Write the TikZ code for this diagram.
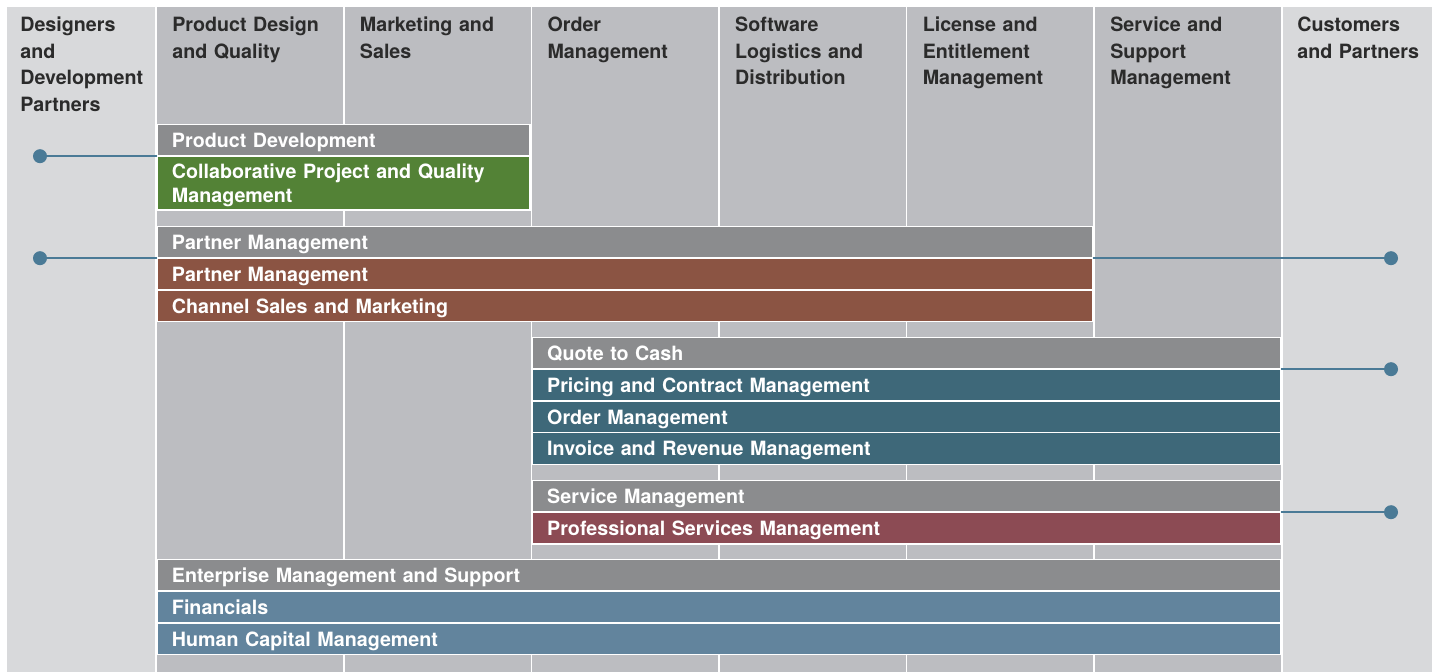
\documentclass[tikz,border=0pt]{standalone}
\usepackage{fontspec}
\setmainfont{TeX Gyre Heros}
\usetikzlibrary{positioning}
\definecolor{sidecol}{HTML}{D8D9DB}
\definecolor{areacol}{HTML}{BCBDC1}
\definecolor{groupgray}{HTML}{8B8C8E}
\definecolor{pdgreen}{HTML}{538236}
\definecolor{ptbrown}{HTML}{8B5443}
\definecolor{qtcteal}{HTML}{3E6879}
\definecolor{svcwine}{HTML}{8C4B54}
\definecolor{emsblue}{HTML}{62849D}
\definecolor{linkblue}{HTML}{4A7A96}
\definecolor{headtxt}{HTML}{2B2B2B}
\tikzset{
  head/.style={anchor=base west,inner sep=0pt,align=left,text=headtxt,text width=3.6cm,
    font=\bfseries\fontsize{11.2}{15.1}\selectfont},
  bar/.style={draw=white,line width=0.03cm,outer sep=0pt,text=white,align=left,
    inner xsep=0.3cm,inner ysep=0pt,minimum height=0.634cm,text width=#1,
    text height=0.292cm,text depth=0cm,
    font=\bfseries\fontsize{11.2}{13.8}\selectfont},
  dot/.style={circle,fill=linkblue,inner sep=0pt,minimum size=0.28cm},
  link/.style={linkblue,line width=0.05cm}
}
\begin{document}
\begin{tikzpicture}[x=0.02cm,y=-0.02cm]
\useasboundingbox (0,0) rectangle (1437,672);
% outer columns
\fill[sidecol] (7,7) rectangle (155,672);
\fill[sidecol] (1283,7) rectangle (1432,672);
\node[head] (hdev) at (20,31.7) {Designers\\and\\Development\\Partners};
\node[head] (hcus) at (1297,31.7) {Customers\\and Partners};
% process areas
\foreach \x/\t [count=\i] in {157/{Product Design\\and Quality},
    344.6/{Marketing and\\Sales},
    532.2/{Order\\Management},
    719.8/{Software\\Logistics and\\Distribution},
    907.4/{License and\\Entitlement\\Management},
    1095/{Service and\\Support\\Management}}{
  \fill[areacol] (\x,7) rectangle (\x+186,672);
  \node[head] (h\i) at (\x+15,31.7) {\t};
}
% product development
\node[bar=6.86cm,fill=groupgray,anchor=north west] (pdev) at (157,124.5) {Product Development};
\node[bar=6.86cm,fill=pdgreen,minimum height=1.08cm,text depth=0.492cm,below=0pt of pdev] (cpq) {Collaborative Project and Quality\\Management};
% partner management
\node[bar=18.12cm,fill=groupgray,anchor=north west] (pmg) at (157,226.5) {Partner Management};
\node[bar=18.12cm,fill=ptbrown,below=0pt of pmg] (pmb) {Partner Management};
\node[bar=18.12cm,fill=ptbrown,below=0pt of pmb] (csm) {Channel Sales and Marketing};
% quote to cash
\node[bar=14.38cm,fill=groupgray,anchor=north west] (qtc) at (532.2,337.5) {Quote to Cash};
\node[bar=14.38cm,fill=qtcteal,below=0pt of qtc] (prc) {Pricing and Contract Management};
\node[bar=14.38cm,fill=qtcteal,below=0pt of prc] (ord) {Order Management};
\node[bar=14.38cm,fill=qtcteal,below=0pt of ord] (inv) {Invoice and Revenue Management};
% service management
\node[bar=14.38cm,fill=groupgray,anchor=north west] (svc) at (532.2,480.5) {Service Management};
\node[bar=14.38cm,fill=svcwine,below=0pt of svc] (psm) {Professional Services Management};
% enterprise management
\node[bar=21.88cm,fill=groupgray,anchor=north west] (ems) at (157,559.5) {Enterprise Management and Support};
\node[bar=21.88cm,fill=emsblue,below=0pt of ems] (fin) {Financials};
\node[bar=21.88cm,fill=emsblue,below=0pt of fin] (hcm) {Human Capital Management};
% partner links
\coordinate (lx) at (40,0);
\coordinate (rx) at (1391,0);
\node[dot] (dl1) at (lx |- pdev.south west) {};
\node[dot] (dl2) at (lx |- pmg.south west) {};
\node[dot] (dr1) at (rx |- pmg.south east) {};
\node[dot] (dr2) at (rx |- qtc.south east) {};
\node[dot] (dr3) at (rx |- svc.south east) {};
\draw[link] (dl1) -- (pdev.south west);
\draw[link] (dl2) -- (pmg.south west);
\draw[link] (pmg.south east) -- (dr1);
\draw[link] (qtc.south east) -- (dr2);
\draw[link] (svc.south east) -- (dr3);
\end{tikzpicture}
\end{document}
